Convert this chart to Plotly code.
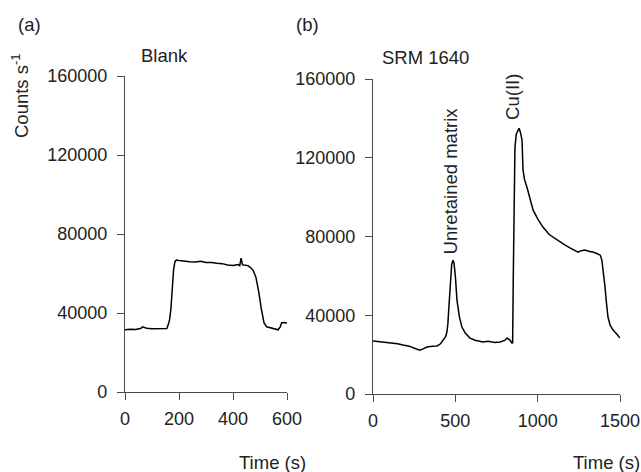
import plotly.graph_objects as go

# Panel (a) Blank
time_a = [0,20,40,60,65,80,100,120,140,155,160,165,170,175,180,185,190,200,220,240,260,280,300,320,340,360,380,400,420,425,430,435,440,455,465,475,485,495,505,515,525,540,555,567,575,580,585,600]
counts_a = [31500,31800,31600,32300,33000,32300,32000,32100,32000,32200,34000,36500,42000,52000,62000,66000,66800,66600,66200,66000,65800,66200,65600,65600,65200,65000,64300,64000,64500,64000,67800,64500,64300,64000,63000,61500,58000,51000,42000,35000,33000,32500,31900,31500,33000,35000,35200,35000]

# Panel (b) SRM 1640
time_b = [0,50,100,150,182,220,260,285,300,328,360,389,410,425,440,449,455,461,470,478,486,492,500,510,525,540,560,589,620,668,700,740,771,800,814,830,844,848,852,856,862,870,880,887,895,905,911,920,935,950,972,1000,1032,1070,1117,1160,1196,1220,1245,1265,1287,1310,1340,1366,1380,1390,1400,1409,1418,1427,1440,1458,1480,1500]
counts_b = [26900,26500,26200,25500,24900,24300,23000,22300,22800,23900,24300,24400,25500,27400,29000,31500,36000,44200,58000,66000,68000,66500,60000,47700,39000,34000,31000,28400,27300,26400,26800,26200,26400,27200,28400,27500,25900,26000,60000,100000,125000,132000,134000,135000,133000,129000,113800,109000,105000,100000,93500,89000,84800,81000,78200,76000,74200,73000,72100,72800,73100,72500,72000,71100,70500,68000,62000,54300,46000,39100,35000,32500,30500,28400]

x_ticks_a = [0, 200, 400, 600]
x_ticks_b = [0, 500, 1000, 1500]
y_ticks = [0, 40000, 80000, 120000, 160000]

FONT = "Liberation Sans, Arial, sans-serif"
TXT = "#222222"
AX = "#4a4a4a"

W, H = 641, 472

def px(x):
    return x / W

def py(y):
    return 1 - y / H

fig = go.Figure()
fig.add_trace(go.Scatter(x=time_a, y=counts_a, mode="lines",
                         line=dict(color="black", width=1.5), xaxis="x", yaxis="y",
                         showlegend=False))
fig.add_trace(go.Scatter(x=time_b, y=counts_b, mode="lines",
                         line=dict(color="black", width=1.5), xaxis="x2", yaxis="y2",
                         showlegend=False))

common_axis = dict(showline=True, linecolor=AX, linewidth=1.3, ticks="outside",
                   ticklen=7, tickcolor=AX, tickwidth=1.3, showgrid=False,
                   zeroline=False, automargin=False,
                   tickfont=dict(family=FONT, size=18, color=TXT))

fig.update_layout(
    width=W, height=H,
    margin=dict(l=0, r=0, t=0, b=0, pad=0),
    paper_bgcolor="white", plot_bgcolor="white",
    font=dict(family=FONT, size=18, color=TXT),
    xaxis=dict(domain=[px(125), px(287)], range=[0, 600], tickvals=x_ticks_a,
               anchor="y", ticklabelstandoff=3, **common_axis),
    yaxis=dict(domain=[py(392), py(76)], range=[0, 160000], tickvals=y_ticks,
               tickformat="d", anchor="x", ticklabelstandoff=6, **common_axis),
    xaxis2=dict(domain=[px(373), px(620)], range=[0, 1500], tickvals=x_ticks_b,
                anchor="y2", ticklabelstandoff=3, **common_axis),
    yaxis2=dict(domain=[py(394), py(79)], range=[0, 160000], tickvals=y_ticks,
                tickformat="d", anchor="x2", ticklabelstandoff=6, **common_axis),
)

def ann(text, x, y, xref="paper", yref="paper", angle=0, size=18.5):
    fig.add_annotation(text=text, x=x, y=y, xref=xref, yref=yref, showarrow=False,
                       textangle=angle, xanchor="center", yanchor="middle",
                       font=dict(family=FONT, size=size, color=TXT))

ann("(a)", px(29), py(25))
ann("(b)", px(307), py(25))
ann("Blank", px(164), py(55))
ann("SRM 1640", px(425), py(57))
ann("Counts s<sup>-1</sup>", px(20), py(96), angle=-90)
ann("Time (s)", px(272), py(462))
ann("Time (s)", px(606), py(462))
ann("Unretained matrix", 468, 108000, xref="x2", yref="y2", angle=-90)
ann("Cu(II)", 850, 150900, xref="x2", yref="y2", angle=-90)

fig.write_html(
    "out.html",
    config={"displayModeBar": False},
    post_script="document.body.style.margin='0';document.body.style.overflow='hidden';",
)
